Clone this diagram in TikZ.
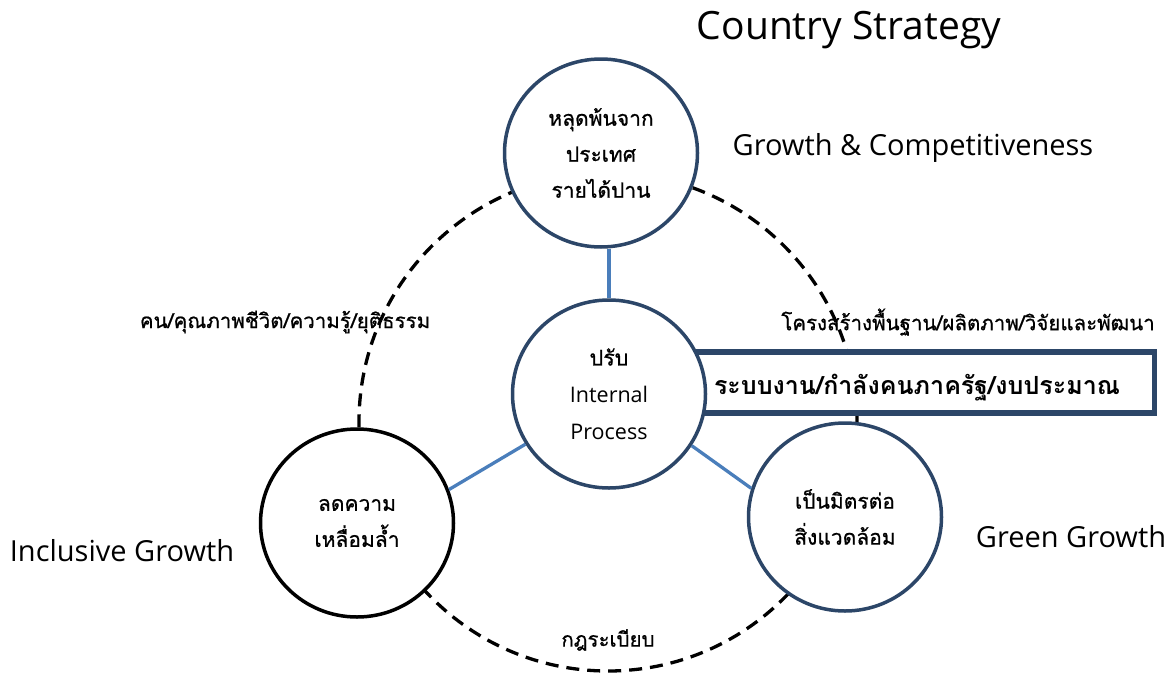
\documentclass[tikz,border=0pt]{standalone}
\usepackage{fontspec}
\setmainfont{Open Sans}
\newfontfamily\thai[Script=Thai]{Loma}
\newfontfamily\thaimed[Script=Thai,FakeBold=0.8]{Loma}
\usetikzlibrary{shapes.geometric}
\definecolor{navy}{RGB}{44,70,104}
\definecolor{linkblue}{RGB}{74,126,187}
\tikzset{
  bubble/.style={ellipse, draw=navy, line width=3.5pt, fill=white, minimum width=193pt, minimum height=188pt, inner sep=0pt, align=center, font=\thaimed\fontsize{21}{36}\selectfont},
  bubbleblack/.style={bubble, draw=black},
  ring/.style={draw=black, line width=3.3pt, dash pattern=on 13pt off 8pt},
  link/.style={draw=linkblue, line width=3.3pt},
  bigbox/.style={draw=navy, line width=5.5pt, fill=white, minimum width=505pt, minimum height=61pt, inner sep=0pt},
  title/.style={font=\fontsize{39}{44}\selectfont},
  pillar/.style={font=\fontsize{29}{34}\selectfont},
  sidelbl/.style={font=\thaimed\fontsize{20.5}{26}\selectfont},
  boxlbl/.style={font=\thai\bfseries\fontsize{25}{30}\selectfont},
}
\begin{document}
\begin{tikzpicture}[x=1pt,y=-1pt]
\useasboundingbox (0,0) rectangle (1175,672);
% dashed ring
\coordinate (ringc) at (608,422);
\draw[ring] (ringc) circle[radius=249];
% box behind centre circle
\node[bigbox] (box) at (902,382.5) {};
% circles
\node[bubble] (t) at (601,153) {หลุดพ้นจาก\\ประเทศ\\รายได้ปาน};
\node[bubble, font=\fontsize{21.5}{37}\selectfont] (c) at (609,394) {{\thaimed ปรับ}\\Internal\\Process};
\node[bubbleblack] (l) at (357,523) {ลดความ\\เหลื่อมล้ำ};
\node[bubble] (r) at (845,517) {เป็นมิตรต่อ\\สิ่งแวดล้อม};
% links
\draw[link] (c.north) -- (c.north |- t.south);
\draw[link] (c.211) -- (l.20);
\draw[link] (c.-32) -- (r.163);
% texts
\node[title] (ttl) at (849,30) {Country Strategy};
\node[pillar] (p1) at (913,148) {Growth \& Competitiveness};
\node[pillar] (p2) at (122,551) {Inclusive Growth};
\node[pillar] (p3) at (1071,537) {Green Growth};
\node[sidelbl] (s1) at (285,322) {คน/คุณภาพชีวิต/ความรู้/ยุติธรรม};
\node[sidelbl] (s2) at (968,322) {โครงสร้างพื้นฐาน/ผลิตภาพ/วิจัยและพัฒนา};
\node[sidelbl] (s3) at (608,640) {กฎระเบียบ};
\node[boxlbl] (bt) at (917,388) {ระบบงาน/กำลังคนภาครัฐ/งบประมาณ};
\end{tikzpicture}
\end{document}
